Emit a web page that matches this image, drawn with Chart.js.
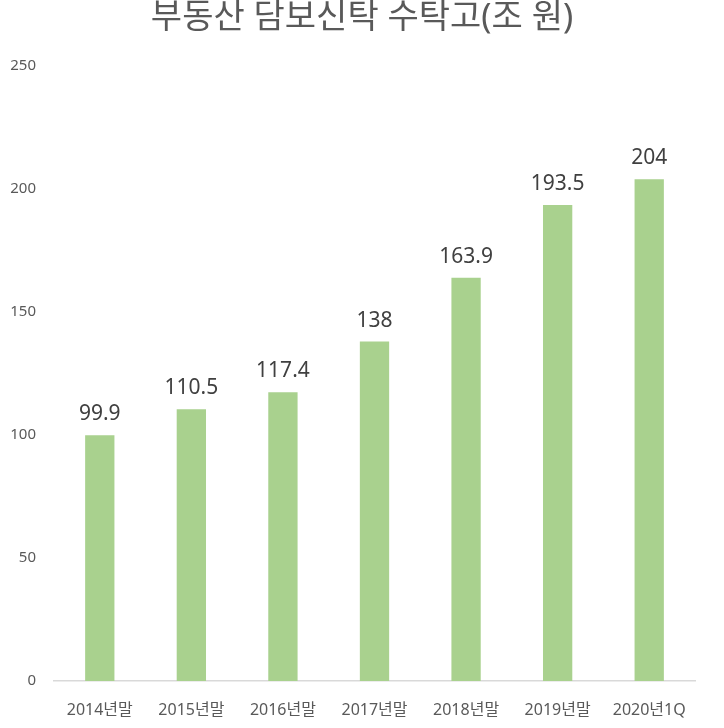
<!DOCTYPE html>
<html>
<head>
<meta charset="utf-8">
<script src="https://cdn.jsdelivr.net/npm/chart.js@4"></script>
<style>
  html, body { margin: 0; padding: 0; background: #fff; }
  #wrap { width: 724px; height: 728px; }
</style>
</head>
<body>
<div id="wrap"><canvas id="graph"></canvas></div>
<script>
var categories = ['2014년말', '2015년말', '2016년말', '2017년말', '2018년말', '2019년말', '2020년1Q'];
var values = [99.9, 110.5, 117.4, 138, 163.9, 193.5, 204];
var yTicks = [0, 50, 100, 150, 200, 250];
var titleText = '부동산 담보신탁 수탁고(조 원)';

var FONT = "'Noto Sans', 'Noto Sans CJK KR', sans-serif";

// title centred on the whole canvas + value labels above bars
var extras = {
  id: 'extras',
  afterDraw: function (chart) {
    var c = chart.ctx;
    c.save();
    c.font = '34px ' + FONT;
    c.fillStyle = '#595959';
    c.textAlign = 'center';
    c.textBaseline = 'alphabetic';
    c.fillText(titleText, chart.width / 2, 28);

    var meta = chart.getDatasetMeta(0);
    c.font = '21px ' + FONT;
    c.fillStyle = '#404040';
    meta.data.forEach(function (bar, i) {
      c.fillText(String(values[i]), bar.x, bar.y - 15);
    });
    c.restore();
  }
};

var ctx = document.getElementById('graph');

var config = {
  type: 'bar',
  data: {
    labels: categories,
    datasets: [{
      data: values,
      backgroundColor: '#a9d18e',
      barPercentage: 0.64,
      categoryPercentage: 0.5
    }]
  },
  options: {
    responsive: true,
    maintainAspectRatio: false,
    animation: false,
    layout: { padding: { left: 0, right: 29, top: 66, bottom: 0 } },
    plugins: {
      legend: { display: false },
      tooltip: { enabled: false },
      title: { display: false }
    },
    scales: {
      x: {
        afterFit: function (axis) { axis.height = 47; },
        grid: { display: false, drawTicks: false },
        border: { display: true, color: '#d9d9d9', width: 1.5 },
        ticks: {
          color: '#595959',
          font: { family: FONT, size: 16 },
          padding: 20,
          maxRotation: 0,
          autoSkip: false
        }
      },
      y: {
        min: 0,
        max: 250,
        afterBuildTicks: function (axis) {
          axis.ticks = yTicks.map(function (v) { return { value: v }; });
        },
        afterFit: function (axis) { axis.width = 54; },
        grid: { display: false, drawTicks: false },
        border: { display: false },
        ticks: {
          color: '#595959',
          font: { family: FONT, size: 15 },
          padding: 18
        }
      }
    }
  },
  plugins: [extras]
};

var myChart = new Chart(ctx, config);
</script>
</body>
</html>
